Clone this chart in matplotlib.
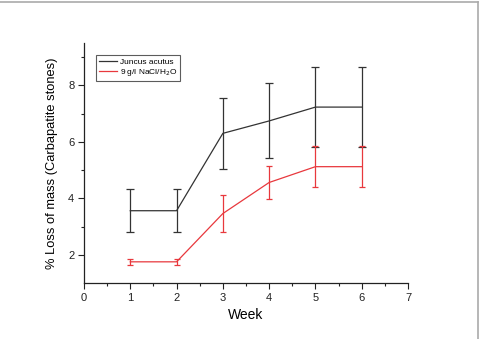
import numpy as np
import matplotlib
matplotlib.use("Agg")
import matplotlib.pyplot as plt
from matplotlib.lines import Line2D

plt.rcParams['font.family'] = ['Liberation Sans', 'DejaVu Sans']

# data
weeks = [1, 2, 3, 4, 5, 6]
juncus = [3.56, 3.56, 6.30, 6.74, 7.23, 7.23]
juncus_err = [0.76, 0.76, 1.25, 1.33, 1.42, 1.42]
nacl = [1.75, 1.75, 3.46, 4.56, 5.12, 5.12]
nacl_err = [0.11, 0.11, 0.64, 0.58, 0.72, 0.72]
labels = ["Juncus acutus", "9 g/l NaCl/H$_2$O"]

fig = plt.figure(figsize=(4.81, 3.39), dpi=100)
ax = fig.add_axes([84/481, 1-283/339, (408-84)/481, (283-43)/339])

ax.errorbar(weeks, juncus, yerr=juncus_err, color="#333333", lw=0.9,
            elinewidth=0.9, capsize=3, capthick=0.9, label=labels[0])
ax.errorbar(weeks, nacl, yerr=nacl_err, color="#e8383d", lw=0.9,
            elinewidth=0.9, capsize=2.5, capthick=0.9, label=labels[1])

ax.set_xlim(0, 7)
ax.set_ylim(1.0, 9.5)
ax.set_xticks(np.arange(0, 8, 1))
ax.set_xticks(np.arange(0.5, 7, 1), minor=True)
ax.set_yticks([2, 4, 6, 8])
ax.set_yticks([3, 5, 7, 9], minor=True)
for s in ["top", "right"]:
    ax.spines[s].set_visible(False)
for s in ["left", "bottom"]:
    ax.spines[s].set_linewidth(0.9)
    ax.spines[s].set_color("#222222")
ax.tick_params(which="major", length=4, width=0.8, labelsize=8, colors="#222222", pad=3)
ax.tick_params(which="minor", length=2.5, width=0.8, colors="#222222")

ax.set_xlabel("Week", fontsize=10, labelpad=4)
ax.set_ylabel("% Loss of mass (Carbapatite stones)", fontsize=9.3, labelpad=7)

handles = [Line2D([], [], color="#333333", lw=0.9), Line2D([], [], color="#e8383d", lw=0.9)]
leg = ax.legend(handles, labels, loc="upper left", bbox_to_anchor=(12/324, 1-12/240),
                fontsize=6, frameon=True, fancybox=False, handlelength=2.2,
                handletextpad=0.35, borderpad=0.35, labelspacing=0.15, borderaxespad=0)
leg.get_frame().set_edgecolor("#333333")
leg.get_frame().set_linewidth(0.8)

# figure border (top and right visible)
fig.add_artist(Line2D([0, 478/481], [1-2/339, 1-2/339], color="#aaaaaa", lw=1.2))
fig.add_artist(Line2D([478/481, 478/481], [0, 1-2/339], color="#aaaaaa", lw=1.2))

fig.savefig("out.png", dpi=100)
